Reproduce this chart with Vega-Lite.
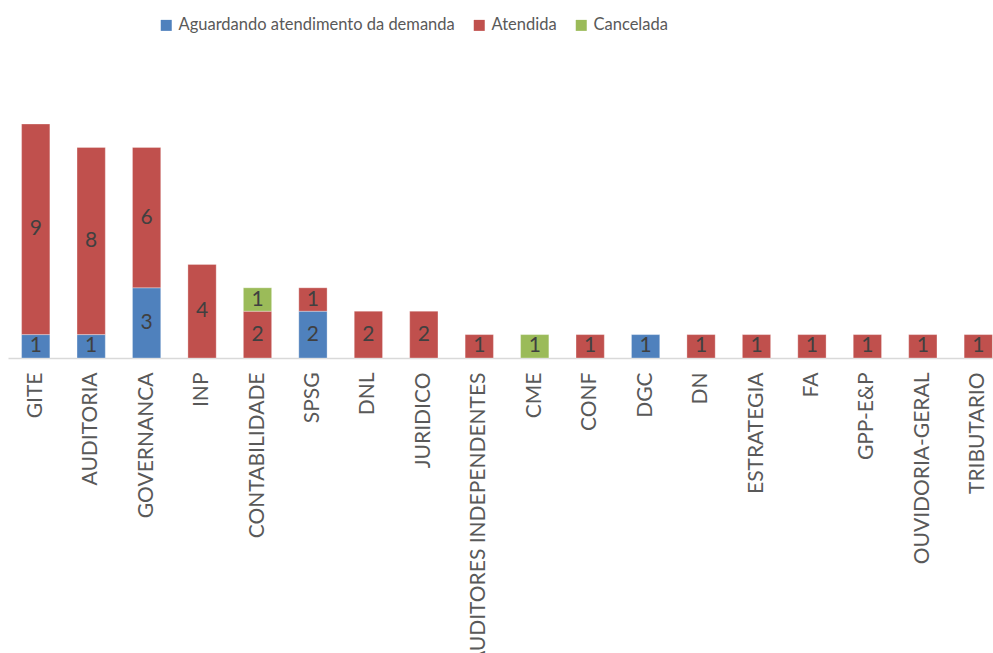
{
  "$schema": "https://vega.github.io/schema/vega-lite/v6.json",
  "width": 998,
  "height": 234,
  "autosize": {"type": "none"},
  "padding": {"left": 8, "top": 124, "right": -13, "bottom": 295},
  "background": "white",
  "config": {"view": {"stroke": null}, "font": "Lato"},
  "data": {
    "values": [
      {"cat": "GITE", "status": "Aguardando atendimento da demanda", "value": 1},
      {"cat": "GITE", "status": "Atendida", "value": 9},
      {"cat": "AUDITORIA", "status": "Aguardando atendimento da demanda", "value": 1},
      {"cat": "AUDITORIA", "status": "Atendida", "value": 8},
      {"cat": "GOVERNANCA", "status": "Aguardando atendimento da demanda", "value": 3},
      {"cat": "GOVERNANCA", "status": "Atendida", "value": 6},
      {"cat": "INP", "status": "Atendida", "value": 4},
      {"cat": "CONTABILIDADE", "status": "Atendida", "value": 2},
      {"cat": "CONTABILIDADE", "status": "Cancelada", "value": 1},
      {"cat": "SPSG", "status": "Aguardando atendimento da demanda", "value": 2},
      {"cat": "SPSG", "status": "Atendida", "value": 1},
      {"cat": "DNL", "status": "Atendida", "value": 2},
      {"cat": "JURIDICO", "status": "Atendida", "value": 2},
      {"cat": "AUDITORES INDEPENDENTES", "status": "Atendida", "value": 1},
      {"cat": "CME", "status": "Cancelada", "value": 1},
      {"cat": "CONF", "status": "Atendida", "value": 1},
      {"cat": "DGC", "status": "Aguardando atendimento da demanda", "value": 1},
      {"cat": "DN", "status": "Atendida", "value": 1},
      {"cat": "ESTRATEGIA", "status": "Atendida", "value": 1},
      {"cat": "FA", "status": "Atendida", "value": 1},
      {"cat": "GPP-E&P", "status": "Atendida", "value": 1},
      {"cat": "OUVIDORIA-GERAL", "status": "Atendida", "value": 1},
      {"cat": "TRIBUTARIO", "status": "Atendida", "value": 1}
    ]
  },
  "transform": [
    {"stack": "value", "groupby": ["cat"], "sort": [{"field": "status"}], "as": ["y0", "y1"]},
    {"calculate": "(datum.y0 + datum.y1) / 2", "as": "mid"}
  ],
  "encoding": {
    "x": {
      "field": "cat",
      "type": "nominal",
      "title": null,
      "sort": ["GITE", "AUDITORIA", "GOVERNANCA", "INP", "CONTABILIDADE", "SPSG", "DNL", "JURIDICO", "AUDITORES INDEPENDENTES", "CME", "CONF", "DGC", "DN", "ESTRATEGIA", "FA", "GPP-E&P", "OUVIDORIA-GERAL", "TRIBUTARIO"],
      "scale": {"paddingInner": 0.49, "paddingOuter": 0.245},
      "axis": {
        "domainColor": "#D9D9D9",
        "domainWidth": 1.5,
        "ticks": false,
        "labelAngle": -90,
        "labelFontSize": 21,
        "labelColor": "#595959",
        "labelFont": "Lato",
        "labelPadding": 14,
        "labelOverlap": false,
        "labelLimit": 1000
      }
    }
  },
  "layer": [
    {
      "mark": {"type": "bar", "stroke": "white", "strokeWidth": 0.6, "strokeOpacity": 0.5},
      "encoding": {
        "y": {"field": "y0", "type": "quantitative", "scale": {"domain": [0, 10]}, "axis": null},
        "y2": {"field": "y1"},
        "color": {
          "field": "status",
          "type": "nominal",
          "scale": {
            "domain": ["Aguardando atendimento da demanda", "Atendida", "Cancelada"],
            "range": ["#4F81BD", "#C0504D", "#9BBB59"]
          },
          "legend": {
            "orient": "none",
            "legendX": 150,
            "legendY": -107,
            "direction": "horizontal",
            "title": null,
            "symbolType": "square",
            "symbolSize": 121,
            "symbolStrokeWidth": 0,
            "symbolOpacity": 1,
            "labelFontSize": 16.5,
            "labelColor": "#595959",
            "labelFont": "Lato",
            "columnPadding": 16,
            "labelOffset": 4,
            "padding": 0,
            "labelLimit": 1000
          }
        }
      }
    },
    {
      "mark": {"type": "text", "fontSize": 21, "color": "#404040", "font": "Lato"},
      "encoding": {
        "y": {"field": "mid", "type": "quantitative"},
        "text": {"field": "value", "type": "quantitative"}
      }
    }
  ]
}
